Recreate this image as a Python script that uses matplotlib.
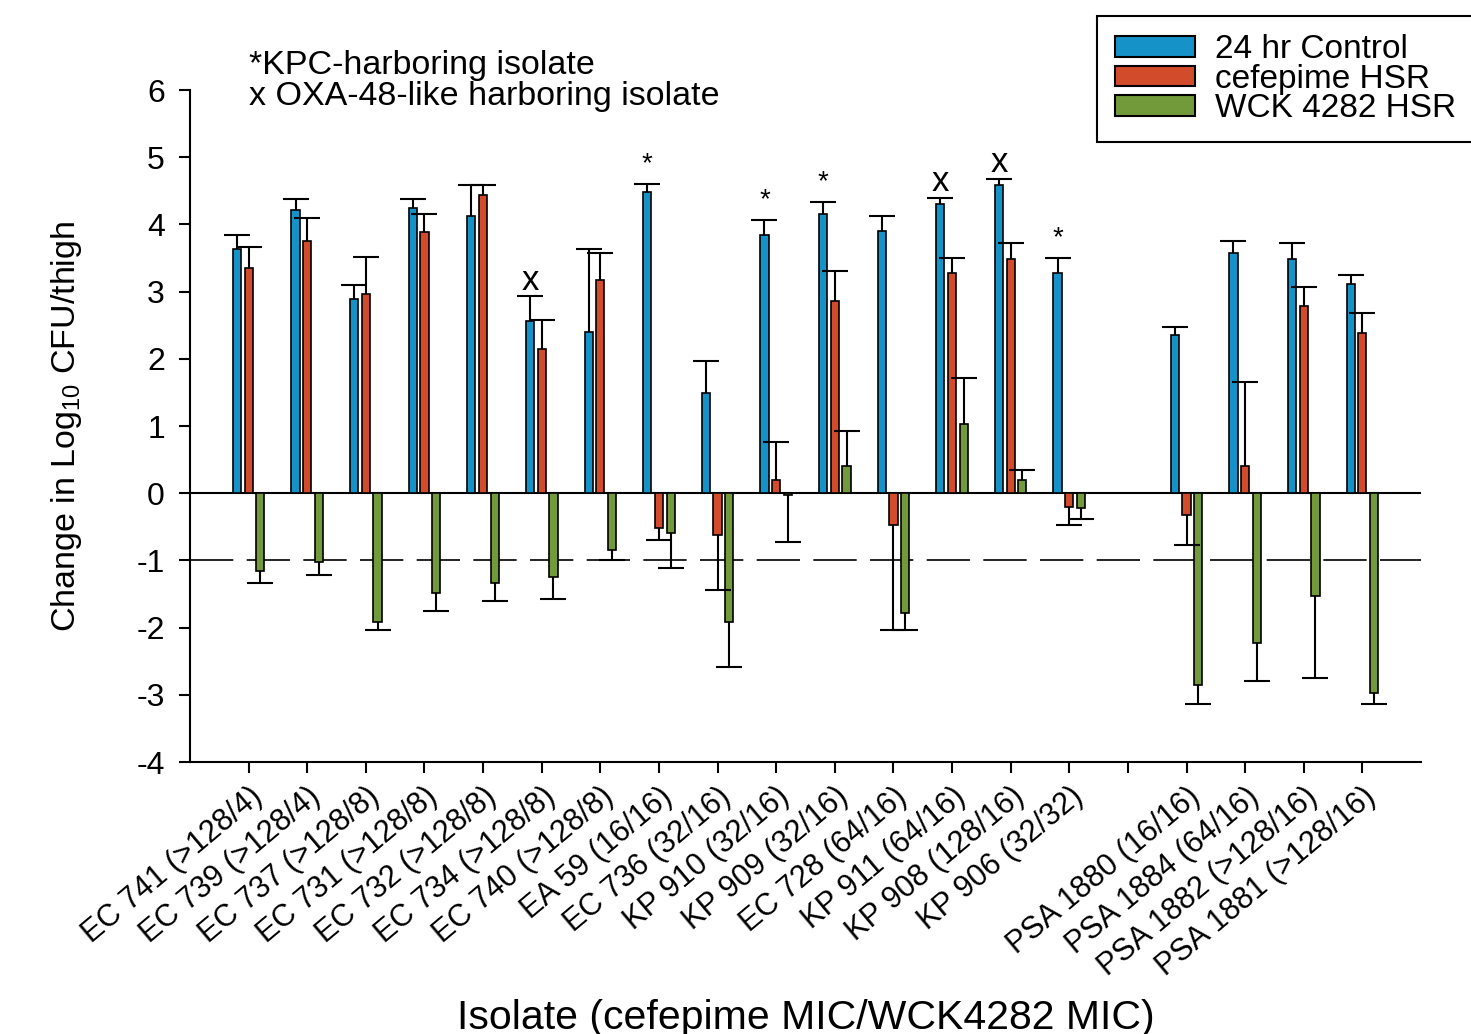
import numpy as np
import matplotlib
matplotlib.use('Agg')
import matplotlib.pyplot as plt
from matplotlib.patches import Patch

plt.rcParams['font.family'] = ['Liberation Sans', 'DejaVu Sans']
plt.rcParams['mathtext.default'] = 'regular'
plt.rcParams['axes.unicode_minus'] = False

# isolate (cefepime MIC/WCK4282 MIC)
isolates = ['EC 741 (>128/4)', 'EC 739 (>128/4)', 'EC 737 (>128/8)', 'EC 731 (>128/8)',
            'EC 732 (>128/8)', 'EC 734 (>128/8)', 'EC 740 (>128/8)', 'EA 59 (16/16)',
            'EC 736 (32/16)', 'KP 910 (32/16)', 'KP 909 (32/16)', 'EC 728 (64/16)',
            'KP 911 (64/16)', 'KP 908 (128/16)', 'KP 906 (32/32)',
            'PSA 1880 (16/16)', 'PSA 1884 (64/16)', 'PSA 1882 (>128/16)', 'PSA 1881 (>128/16)']
n_entero = 15  # the rest are PSA, drawn after one empty slot

control = [3.63, 4.21, 2.89, 4.25, 4.12, 2.56, 2.40, 4.48, 1.49, 3.84, 4.15, 3.90, 4.30, 4.58, 3.28,
           2.36, 3.58, 3.48, 3.11]
control_err = [0.21, 0.17, 0.21, 0.13, 0.46, 0.37, 1.23, 0.12, 0.47, 0.23, 0.19, 0.22, 0.10, 0.10, 0.22,
               0.12, 0.17, 0.25, 0.13]
cefepime = [3.35, 3.76, 2.96, 3.89, 4.44, 2.15, 3.17, -0.52, -0.62, 0.19, 2.86, -0.47, 3.27, 3.48, -0.21,
            -0.33, 0.40, 2.78, 2.39]
cefepime_err = [0.32, 0.33, 0.56, 0.27, 0.14, 0.43, 0.41, 0.17, 0.82, 0.57, 0.45, 1.56, 0.23, 0.25, 0.26,
                0.44, 1.26, 0.29, 0.29]
wck = [-1.16, -1.03, -1.91, -1.49, -1.34, -1.24, -0.84, -0.59, -1.91, -0.03, 0.41, -1.79, 1.03, 0.20, -0.22,
       -2.86, -2.23, -1.53, -2.97]
wck_err = [0.18, 0.18, 0.12, 0.26, 0.26, 0.34, 0.15, 0.52, 0.68, 0.70, 0.51, 0.24, 0.69, 0.14, 0.16,
           0.28, 0.57, 1.22, 0.17]

# * KPC, x OXA-48-like
marks = ['', '', '', '', '', 'x', '', '*', '', '*', '*', '', 'x', 'x', '*', '', '', '', '']

series_names = ['24 hr Control', 'cefepime HSR', 'WCK 4282 HSR']
colors = ['#1592C8', '#D24C2B', '#72993A']

pos = np.array([i + 1 if i < n_entero else i + 2 for i in range(len(isolates))])

fig = plt.figure(figsize=(14.71, 10.34), dpi=100)
ax = fig.add_axes([190 / 1471, 272 / 1034, 1231 / 1471, 672 / 1034])

w = 0.14
off = 0.2
for k, (vals, errs) in enumerate([(control, control_err), (cefepime, cefepime_err), (wck, wck_err)]):
    vals = np.array(vals)
    errs = np.array(errs)
    x = pos + (k - 1) * off
    ax.bar(x, vals, width=w, color=colors[k], edgecolor='black', linewidth=1.2, zorder=2)
    # one-sided error bars, away from zero
    lo = np.where(vals < 0, errs, 0)
    hi = np.where(vals >= 0, errs, 0)
    ax.errorbar(x, vals, yerr=[lo, hi], fmt='none', ecolor='black', elinewidth=1.5,
                capsize=0, zorder=3)
    ends = np.where(vals < 0, vals - errs, vals + errs)
    ax.plot(x, ends, ls='none', marker='_', markersize=19, markeredgewidth=1.5,
            color='black', zorder=3)

for i, m in enumerate(marks):
    if m == '':
        continue
    top = control[i] + control_err[i]
    if m == '*':
        ax.text(pos[i] - off, top + 0.1, '*', ha='center', va='bottom', fontsize=20)
    else:
        ax.text(pos[i] - off, top + 0.24, 'x', ha='center', va='center', fontsize=25)

ax.axhline(0, color='black', lw=1.5, zorder=1)
ax.axhline(-1, color='black', lw=1.2, ls=(0, (26, 8)), zorder=1)

ax.set_xlim(0, 21)
ax.set_ylim(-4, 6)
ax.set_yticks(range(-4, 7))
ax.tick_params(axis='y', labelsize=23, length=8, width=1.5, direction='out', pad=10)
ax.set_xticks(range(1, 21))
ax.set_xticklabels(isolates[:n_entero] + [''] + isolates[n_entero:], rotation=40,
                   ha='right', rotation_mode='anchor', fontsize=22)
ax.tick_params(axis='x', length=8, width=1.5, direction='out', pad=6)
for s in ['top', 'right']:
    ax.spines[s].set_visible(False)
for s in ['left', 'bottom']:
    ax.spines[s].set_linewidth(1.5)

ax.set_ylabel('Change in Log$_{10}$ CFU/thigh', fontsize=24.5, labelpad=38)
ax.set_xlabel('Isolate (cefepime MIC/WCK4282 MIC)', fontsize=29.5, labelpad=12)

ax.text(1.0, 6.36, '*KPC-harboring isolate', fontsize=24.5, va='center', ha='left', clip_on=False)
ax.text(1.0, 5.90, 'x OXA-48-like harboring isolate', fontsize=24.5, va='center', ha='left',
        clip_on=False)

handles = [Patch(facecolor=c, edgecolor='black', linewidth=1.5) for c in colors]
leg = fig.legend(handles, series_names, loc='upper left', bbox_to_anchor=(1097 / 1471, 1 - 16 / 1034),
                 borderaxespad=0, fontsize=24, handlelength=2.4, handleheight=0.58,
                 labelspacing=-0.05, handletextpad=0.6, borderpad=0.55, fancybox=False,
                 edgecolor='black', framealpha=1)
leg.get_frame().set_linewidth(1.5)

fig.savefig('out.png', dpi=100)
